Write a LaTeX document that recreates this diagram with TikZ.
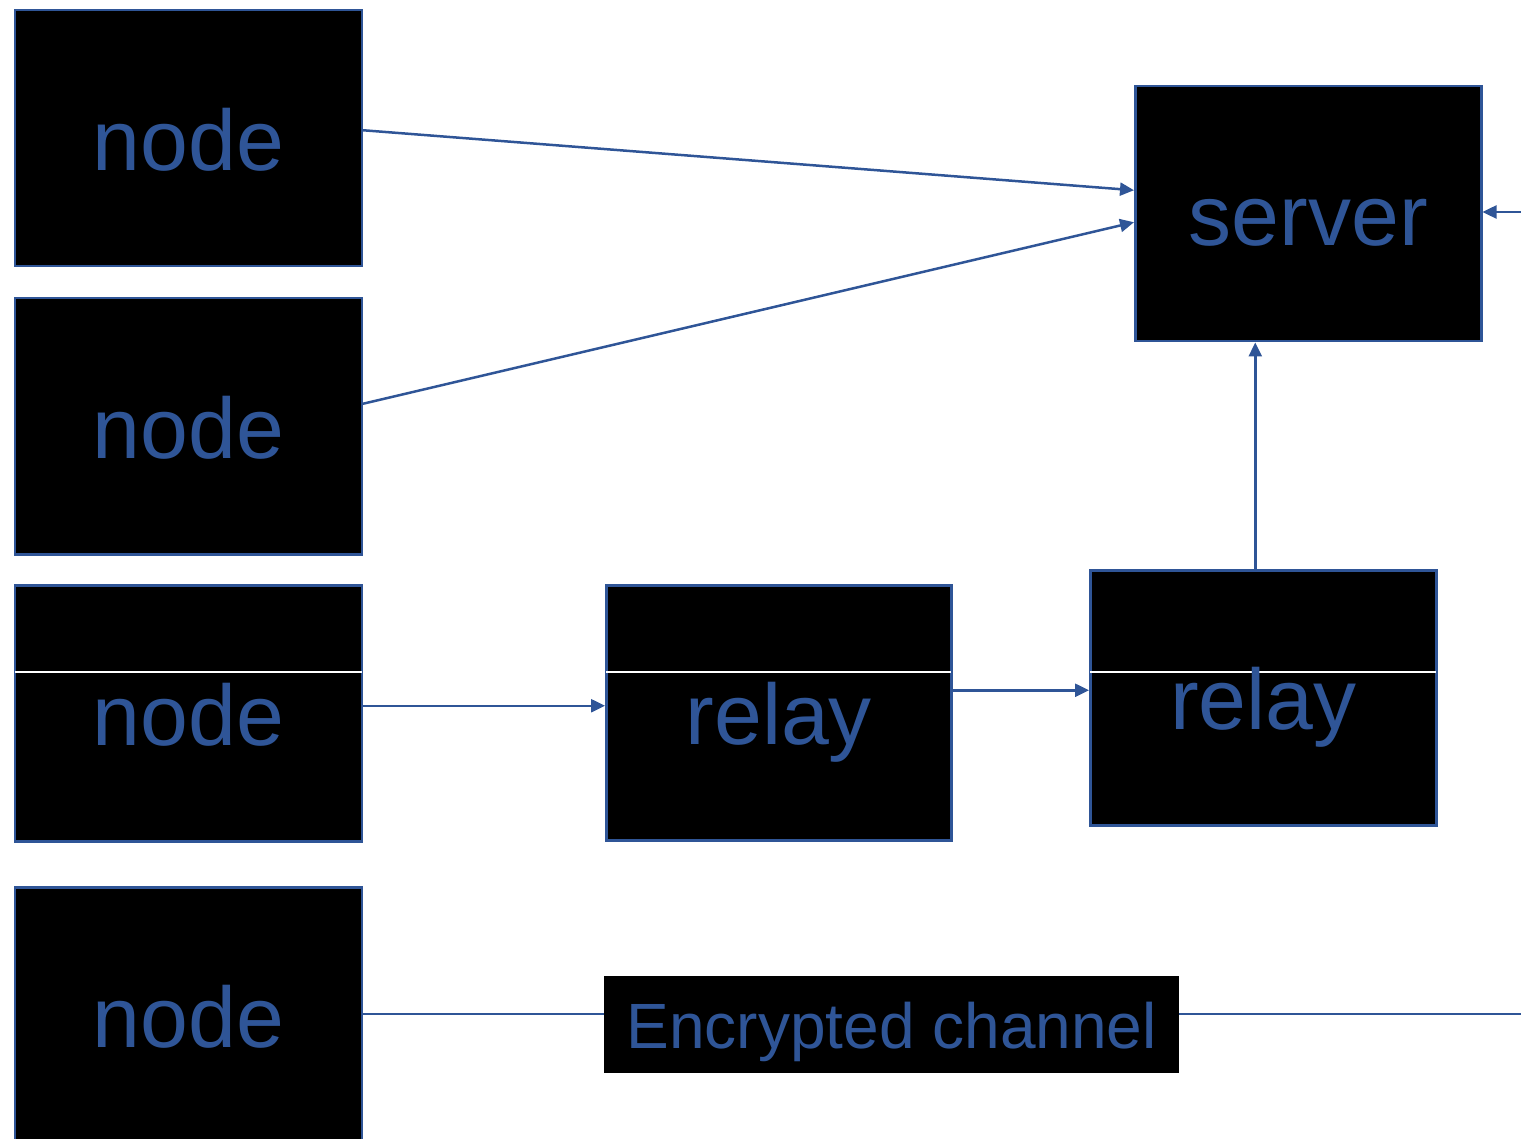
\documentclass[tikz,border=0pt]{standalone}
\usepackage{fontspec}
\setmainfont{Liberation Sans}
\usetikzlibrary{arrows.meta}
\definecolor{bl}{RGB}{47,85,151}
\begin{document}
\begin{tikzpicture}[x=1pt,y=-1pt,
  box/.style={draw=bl,line width=2.5pt,fill=black,inner sep=0pt,
    minimum width=347pt,minimum height=256pt,anchor=north west},
  lbl/.style={text=bl,inner sep=0pt,font=\fontsize{86}{100}\selectfont,
    text height=64pt,text depth=0pt},
  sepline/.style={draw=white,line width=1.6pt,shorten <=1.3pt,shorten >=1.3pt},
  chan/.style={fill=black,text=bl,inner sep=0pt,font=\fontsize{64}{76}\selectfont,
    text height=47pt,text depth=0pt,minimum width=575pt,minimum height=97pt,anchor=north west},
  conn/.style={draw=bl,line width=2.5pt},
  arr/.style={conn,-{Triangle[length=14pt,width=13pt]}}]
\useasboundingbox (0,0) rectangle (1521,1139);
\begin{scope}
\clip (0,0) rectangle (1521,1139);
\node[box] (n1) at (13.5,9) {};
\node[box] (n2) at (13.5,297) {};
\node[box] (n3) at (13.5,584) {};
\node[box,minimum height=258pt] (n4) at (13.5,886) {};
\node[box,minimum width=346pt,minimum height=255pt] (srv) at (1134,85) {};
\node[box,minimum width=345pt,minimum height=255pt] (r1) at (605,584) {};
\node[box,minimum width=346pt,minimum height=255pt] (r2) at (1089,569) {};
\coordinate (s3) at (0,672);
\draw[sepline] (n3.west |- s3) -- (n3.east |- s3);
\draw[sepline] (r1.west |- s3) -- (r1.east |- s3);
\draw[sepline] (r2.west |- s3) -- (r2.east |- s3);
\node[lbl] (t1) at (n1) {node};
\node[lbl] (t2) at (n2) {node};
\node[lbl] (t3) at (n3) {node};
\node[lbl] (t4) at ([yshift=1pt]n4) {node};
\node[lbl] (ts) at (srv) {server};
\node[lbl] (tr1) at (r1) {relay};
\node[lbl] (tr2) at (r2) {relay};
\node[chan] (enc) at (604,976) {Encrypted channel};
\coordinate (e1) at (1521,212);
\coordinate (e2) at (1521,1014);
\draw[arr] ([yshift=8pt]n1.east) -- ([yshift=23.5pt]srv.west);
\draw[arr] ([yshift=22.5pt]n2.east) -- ([yshift=-8.5pt]srv.west);
\draw[arr] ([xshift=-8pt]r2.north) -- ([xshift=-8pt]r2.north |- srv.south);
\draw[arr] (e1) -- (e1 -| srv.east);
\draw[arr] ([yshift=7.5pt]n3.east) -- ([yshift=7.5pt]n3.east -| r1.west);
\draw[arr] ([yshift=22.5pt]r1.east) -- ([yshift=22.5pt]r1.east -| r2.west);
\draw[conn] (n4.east |- e2) -- (enc.west |- e2);
\draw[conn] (enc.east |- e2) -- (e2);
\end{scope}
\end{tikzpicture}
\end{document}
